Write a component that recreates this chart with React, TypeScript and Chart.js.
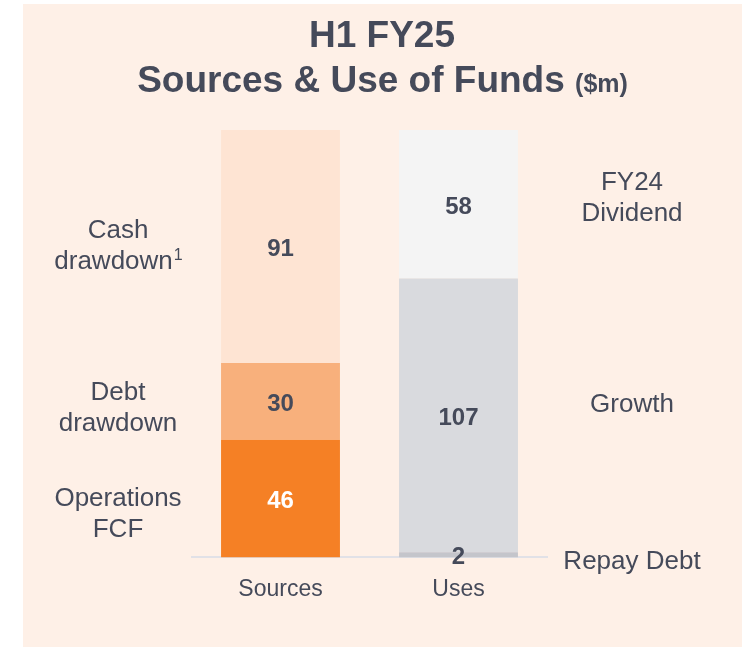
import React, { useEffect, useRef } from "react";
import { Chart, registerables } from "chart.js";

Chart.register(...registerables);

// ---- data ----
const categories = ["Sources", "Uses"];
const level1Values = [46, 2];
const level2Values = [30, 107];
const level3Values = [91, 58];
const sourceNames = ["Operations\nFCF", "Debt\ndrawdown", "Cash\ndrawdown¹"];
const useNames = ["Repay Debt", "Growth", "FY24\nDividend"];
const titleLine1 = "H1 FY25";
const titleLine2 = "Sources & Use of Funds";
const titleUnit = "($m)";

// ---- styles ----
const FONT = '"Liberation Sans", Arial, sans-serif';
const TEXT = "#454A5A";
const BG = "#FEF0E7";
const levelColors = [
  ["#F58025", "#C4C5CB"],
  ["#F8B07C", "#D9DADE"],
  ["#FEE4D3", "#F4F4F4"],
];
const valueColors = [
  ["#FFFFFF", TEXT],
  [TEXT, TEXT],
  [TEXT, TEXT],
];
const leftOffsets = [15.5, 7.5, -0.5];
const rightOffsets = [7, -10.5, -5.5];

const annotPlugin = {
  id: "annot",
  afterDatasetsDraw(chart: any) {
    const ctx = chart.ctx as CanvasRenderingContext2D;
    ctx.save();
    ctx.textAlign = "center";
    ctx.textBaseline = "middle";
    const centers: number[][] = [];
    chart.data.datasets.forEach((ds: any, di: number) => {
      const meta = chart.getDatasetMeta(di);
      centers[di] = [];
      meta.data.forEach((el: any, i: number) => {
        const { x, y, base } = el.getProps(["x", "y", "base"], true);
        const cy = (y + base) / 2;
        centers[di][i] = cy;
        ctx.font = `bold 24px ${FONT}`;
        ctx.fillStyle = valueColors[di][i];
        ctx.fillText(String(ds.data[i]), x, cy + 3);
      });
    });
    ctx.fillStyle = TEXT;
    const drawGroup = (text: string, cx: number, cy: number) => {
      const lines = text.split("\n");
      const lh = 31;
      lines.forEach((ln, k) => {
        const ly = cy + (k - (lines.length - 1) / 2) * lh;
        if (ln.endsWith("¹")) {
          const base = ln.slice(0, -1);
          ctx.font = `26px ${FONT}`;
          const bw = ctx.measureText(base).width;
          ctx.font = `16px ${FONT}`;
          const sw = ctx.measureText("1").width;
          const sx = cx - (bw + sw) / 2;
          ctx.textAlign = "left";
          ctx.font = `26px ${FONT}`;
          ctx.fillText(base, sx, ly);
          ctx.font = `16px ${FONT}`;
          ctx.fillText("1", sx + bw + 1, ly - 6);
          ctx.textAlign = "center";
        } else {
          ctx.font = `26px ${FONT}`;
          ctx.fillText(ln, cx, ly);
        }
      });
    };
    sourceNames.forEach((n, di) => drawGroup(n, 118, centers[di][0] + leftOffsets[di]));
    useNames.forEach((n, di) => drawGroup(n, 632, centers[di][1] + rightOffsets[di]));

    // title
    ctx.textAlign = "center";
    ctx.textBaseline = "alphabetic";
    ctx.font = `bold 37px ${FONT}`;
    ctx.fillText(titleLine1, 382, 47);
    const w1 = ctx.measureText(titleLine2 + " ").width;
    ctx.font = `bold 25px ${FONT}`;
    const w2 = ctx.measureText(titleUnit).width;
    const start = 382.5 - (w1 + w2) / 2;
    ctx.textAlign = "left";
    ctx.font = `bold 37px ${FONT}`;
    ctx.fillText(titleLine2, start, 92);
    ctx.font = `bold 25px ${FONT}`;
    ctx.fillText(titleUnit, start + w1, 92);
    ctx.restore();
  },
};

export default function App() {
  const ref = useRef<HTMLCanvasElement>(null);
  useEffect(() => {
    if (!ref.current) return;
    const levels = [level1Values, level2Values, level3Values];
    const totals = categories.map((_, i) => levels.reduce((s, l) => s + l[i], 0));
    const chart = new Chart(ref.current, {
      type: "bar",
      data: {
        labels: categories,
        datasets: levels.map((vals, di) => ({
          label: `level${di + 1}`,
          data: vals,
          backgroundColor: levelColors[di],
          borderWidth: 0,
          categoryPercentage: 1,
          barPercentage: 0.668,
        })),
      },
      options: {
        responsive: false,
        animation: false,
        devicePixelRatio: 1,
        layout: { padding: { left: 191.5, right: 200.5, top: 130, bottom: 26 } },
        plugins: { legend: { display: false }, tooltip: { enabled: false }, title: { display: false } },
        scales: {
          x: {
            stacked: true,
            grid: { display: false, drawTicks: false },
            border: { display: true, color: "#E1E1E7", width: 2 },
            ticks: { color: TEXT, font: { family: FONT, size: 23 }, padding: 18 },
          },
          y: {
            stacked: true,
            display: false,
            min: 0,
            max: Math.max(...totals),
          },
        },
      },
      plugins: [annotPlugin],
    });
    return () => chart.destroy();
  }, []);
  return (
    <div style={{ position: "absolute", left: 0, top: 0, width: 748, height: 647, background: "#FFFFFF" }}>
      <div style={{ position: "absolute", left: 23, top: 4, width: 719, height: 643, background: BG }} />
      <canvas ref={ref} width={748} height={647} style={{ position: "absolute", left: 0, top: 0 }} />
    </div>
  );
}
